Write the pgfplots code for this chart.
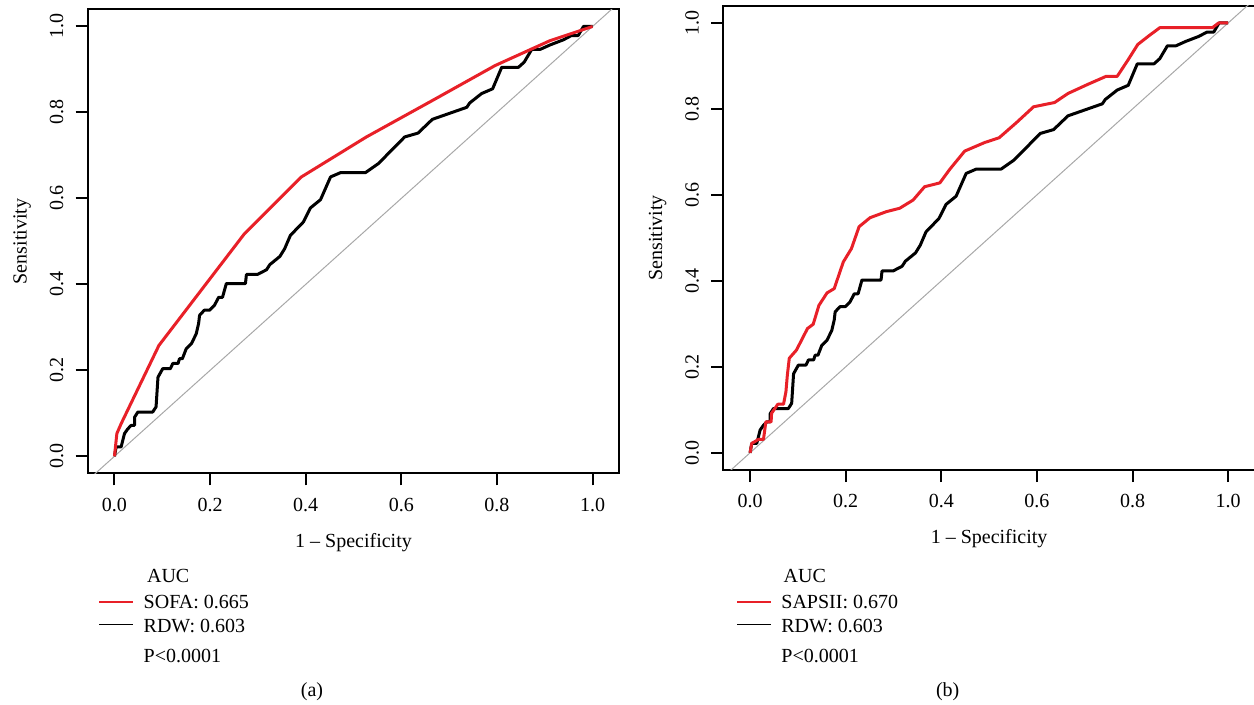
\documentclass[border=0pt]{standalone}
\usepackage{fontspec}
\setmainfont{Liberation Serif}
\usepackage{pgfplots}
\usepackage{pgfplotstable}
\pgfplotsset{compat=1.18}

\definecolor{rocred}{RGB}{232,32,40}
\definecolor{diaggray}{RGB}{168,168,168}

% RDW curve, shared by both panels
\pgfplotstableread{
x y
0 0
0.0035 0.022
0.014 0.022
0.021 0.053
0.028 0.064
0.035 0.072
0.042 0.072
0.042 0.091
0.049 0.103
0.080 0.103
0.087 0.115
0.091 0.184
0.101 0.204
0.117 0.204
0.122 0.216
0.133 0.216
0.136 0.227
0.142 0.227
0.150 0.250
0.161 0.262
0.171 0.285
0.176 0.309
0.178 0.328
0.188 0.340
0.199 0.340
0.209 0.351
0.218 0.370
0.226 0.370
0.234 0.402
0.274 0.402
0.276 0.423
0.299 0.423
0.318 0.434
0.325 0.446
0.346 0.465
0.356 0.483
0.368 0.514
0.395 0.545
0.410 0.578
0.431 0.597
0.452 0.650
0.473 0.660
0.525 0.660
0.552 0.681
0.576 0.708
0.607 0.743
0.635 0.752
0.665 0.784
0.737 0.812
0.743 0.822
0.768 0.844
0.791 0.855
0.810 0.905
0.845 0.905
0.857 0.917
0.873 0.947
0.891 0.947
0.911 0.957
0.939 0.969
0.956 0.979
0.970 0.979
0.981 1.0
1.0 1.0
}\rdw

\pgfplotstableread{
x y
0 0
0.005 0.053
0.014 0.076
0.093 0.258
0.272 0.518
0.391 0.650
0.527 0.743
0.667 0.829
0.796 0.909
0.911 0.967
1.0 1.0
}\sofa

\pgfplotstableread{
x y
0 0
0.0035 0.022
0.010 0.026
0.017 0.031
0.028 0.031
0.033 0.072
0.044 0.072
0.045 0.092
0.058 0.113
0.070 0.113
0.075 0.142
0.078 0.181
0.082 0.220
0.097 0.239
0.120 0.289
0.132 0.299
0.144 0.343
0.161 0.372
0.176 0.382
0.195 0.444
0.212 0.475
0.228 0.526
0.251 0.547
0.285 0.561
0.313 0.569
0.341 0.588
0.365 0.619
0.397 0.628
0.418 0.660
0.449 0.702
0.491 0.722
0.521 0.733
0.557 0.768
0.593 0.805
0.637 0.815
0.665 0.836
0.706 0.857
0.745 0.876
0.768 0.876
0.790 0.913
0.811 0.950
0.834 0.970
0.857 0.989
0.967 0.989
0.980 1.0
1.0 1.0
}\sapsii

\pgfplotsset{
  rocaxis/.style={
    scale only axis,
    width=265.8pt, height=232.1pt,
    xmin=-0.056, xmax=1.056,
    ymin=-0.04, ymax=1.04,
    xtick={0,0.2,0.4,0.6,0.8,1},
    ytick={0,0.2,0.4,0.6,0.8,1},
    xticklabels={0.0,0.2,0.4,0.6,0.8,1.0},
    yticklabels={0.0,0.2,0.4,0.6,0.8,1.0},
    tick pos=left,
    tick align=outside,
    major tick length=6pt,
    major tick style={black, line width=1pt},
    axis line style={black, line width=1pt},
    xticklabel style={anchor=north, inner sep=0pt},
    yticklabel style={rotate=90, anchor=south, inner sep=0pt},
    xticklabel shift=6pt,
    yticklabel shift=6pt,
    xlabel={1 – Specificity},
    ylabel={Sensitivity},
    xlabel style={at={(axis description cs:0.5,-0.128)}, anchor=north, inner sep=0pt},
    ylabel style={at={(axis description cs:-0.115,0.5)}, anchor=base, inner sep=0pt},
    clip=true,
  },
}

\begin{document}
\begin{tikzpicture}
\useasboundingbox (0,0) rectangle (627pt,-352.5pt);

% panel (a)
\begin{axis}[rocaxis, at={(43.85pt,-236.75pt)}, anchor=south west]
\addplot[diaggray, line width=0.5pt] coordinates {(-0.2,-0.2) (1.2,1.2)};
\addplot[black, line width=1.5pt, line join=round] table[x=x,y=y] {\rdw};
\addplot[rocred, line width=1.5pt, line join=round] table[x=x,y=y] {\sofa};
\end{axis}

% panel (b)
\begin{axis}[rocaxis, at={(361.65pt,-235pt)}, anchor=south west]
\addplot[diaggray, line width=0.5pt] coordinates {(-0.2,-0.2) (1.2,1.2)};
\addplot[black, line width=1.5pt, line join=round] table[x=x,y=y] {\rdw};
\addplot[rocred, line width=1.5pt, line join=round] table[x=x,y=y] {\sapsii};
\end{axis}

% legend (a)
\node[anchor=base west, inner sep=0pt] at (73.35pt,-291.15pt) {AUC};
\fill[rocred] (49.5pt,-300.5pt) rectangle (66.5pt,-301.5pt);
\node[anchor=base west, inner sep=0pt] at (71.65pt,-304.15pt) {SOFA: 0.665};
\fill[black] (49.5pt,-312pt) rectangle (66.5pt,-312.5pt);
\node[anchor=base west, inner sep=0pt] at (71.65pt,-316.35pt) {RDW: 0.603};
\node[anchor=base west, inner sep=0pt] at (71.65pt,-331.15pt) {P<0.0001};
\node[inner sep=0pt] at (156pt,-345.6pt) {(a)};

% legend (b)
\node[anchor=base west, inner sep=0pt] at (391.65pt,-291.15pt) {AUC};
\fill[rocred] (368.5pt,-300.5pt) rectangle (385.5pt,-301.5pt);
\node[anchor=base west, inner sep=0pt] at (390.5pt,-304.15pt) {SAPSII: 0.670};
\fill[black] (368.5pt,-312pt) rectangle (385.5pt,-312.5pt);
\node[anchor=base west, inner sep=0pt] at (390.5pt,-316.35pt) {RDW: 0.603};
\node[anchor=base west, inner sep=0pt] at (390.5pt,-331.15pt) {P<0.0001};
\node[inner sep=0pt] at (473.85pt,-345.6pt) {(b)};
\end{tikzpicture}
\end{document}
